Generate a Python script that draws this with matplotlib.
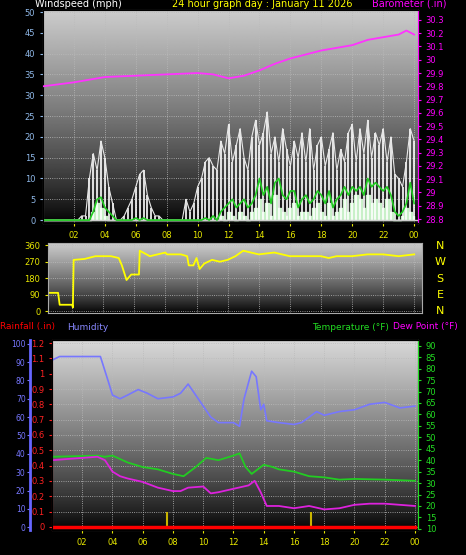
import numpy as np
import matplotlib
matplotlib.use("Agg")
import matplotlib.pyplot as plt

W, H = 466, 555
hours_q = np.arange(0, 24.01, 0.25)
gust = [0,0,0,0, 0,0,0,0, 0,0,1,1, 10,16,12,19, 15,8,4,0, 0,1,3,5, 8,11,12,6, 3,1,1,0,
        0,0,0,0, 0,5,2,4, 8,10,14,15, 13,12,19,16, 23,14,18,22, 15,12,20,24, 18,21,26,16,
        20,14,22,17, 13,19,15,21, 14,22,12,18, 20,13,17,21, 12,17,14,21, 23,14,22,16,
        24,15,21,18, 22,14,20,11, 10,8,14,22, 19]
avg = [0,0,0,0, 0,0,0,0, 0,0,0,0, 0,2,5,5.5, 3,2,1,0, 0,0,0,0, 0.5,0,0.5,0, 0,0,0,0,
       0,0,0,0, 0,0,0,0, 0,0,0.5,0, 1,0,2,3, 4,5,3,4, 5,3,4,6, 10,6,8,4, 9,10,6,5,
       7,7,3,5, 6,4,5,7, 6,4,7,3, 5,6,8,6, 8,7,8,6, 10,8,9,8, 7,8,6,2, 1,2,4,9, 4]
low = [0,0,0,0, 0,0,0,0, 0,0,0,0, 0,2,4,3, 1,0,0,0, 0,0,0,0, 0,0,0,0, 0,0,0,0,
       0,0,0,0, 0,0,0,0, 0,0,0,0, 0,0,1,0, 2,1,0,2, 1,0,2,3, 5,2,4,1, 6,3,2,1,
       3,4,1,2, 2,1,3,4, 2,1,4,1, 2,3,5,2, 4,6,5,3, 6,4,5,4, 3,5,2,0, 0,1,3,2, 1]
baro_h = [0,2,4,6,8,10,11,12,13,14,15,16,17,18,19,20,21,22,23,23.5,24]
baro = [29.80,29.83,29.87,29.88,29.89,29.90,29.89,29.86,29.88,29.92,29.97,30.01,30.04,30.07,
        30.09,30.11,30.15,30.17,30.19,30.22,30.19]
dir_h = [0.45,1.1,1.2,2.0,2.05,2.1,2.8,3.5,4.5,5.0,5.2,5.5,5.8,6.3,6.35,7.0,7.5,8.0,8.1,9.0,
         9.4,9.5,9.8,10.0,10.2,10.5,11,11.5,12,12.5,13,14,15,16,17,18,18.5,19,20,21,22,23,24]
wdir = [100,100,35,35,20,280,285,300,300,290,250,170,200,200,330,300,310,320,310,310,
        300,250,250,290,230,260,280,270,280,300,330,310,320,300,300,300,290,300,300,310,310,300,310]
hum_h = [0,0.5,3.2,3.7,4,4.5,5,5.7,6.3,7,8,8.5,9,9.5,10,10.5,11,12,12.4,12.7,13.2,13.5,13.8,14,
         14.2,15,16,16.5,17,17.5,18,19,20,21,22,23,24]
hum = [91,93,93,80,72,70,72,75,73,70,71,73,78,72,66,60,57,57,55,70,85,82,64,67,58,57,56,57,60,
       63,61,63,64,67,68,65,66]
temp_h = [0,3,3.5,4,5,6,7,8,8.7,9.5,10.2,11,12,12.4,12.8,13.2,13.7,14,14.6,15,16,17,18,19,20,22,24]
temp = [41.5,42,41.5,42,39,37,36,34,33,37,41,40,42,43,37,34,36.5,38,37,36,35,33,32.5,31.5,31.8,31.5,31]
dew_h = [0,3,3.5,4,4.5,5,6,7,8,8.5,9,10,10.5,11,12,13,13.4,13.8,14.2,15,16,17,18,19,20,21,22,23,24]
dew = [40,41.5,40,35,33,32,30.5,28,26.5,26.5,28,28.5,25.5,26,27.5,29,31,26,20,20,19,20,18.5,19,
       20.5,21,21,20.5,20]
rain = [0, 0]
rain_h = [0, 24]
mark_h = [7.6, 17.1]
tick_h = list(range(2, 25, 2))
tick_lab = ["02","04","06","08","10","12","14","16","18","20","22","00"]

fig = plt.figure(figsize=(W/100, H/100), dpi=100, facecolor="black")
def ax_px(l, t, r, b):
    return fig.add_axes([l/W, 1-b/H, (r-l)/W, (b-t)/H])

def grad(ax, top=0.8):
    g = (np.linspace(1, 0, 256) ** 0.8 * top).reshape(-1, 1)
    ax.imshow(g, cmap="gray", vmin=0, vmax=1, aspect="auto", extent=[0,1,0,1],
              transform=ax.transAxes, zorder=0)

def style(ax, col):
    ax.set_facecolor("black")
    for s in ax.spines.values():
        s.set_color("#aaaaaa")
    ax.tick_params(colors=col, labelsize=6, length=2)

# Panel 1
a1 = ax_px(43, 10, 418, 223)
style(a1, "#8fb8e8")
grad(a1)
a1.set_xlim(0, 24.25); a1.set_ylim(-0.7, 50.5)
a1.set_yticks(range(0, 51, 5))
a1.set_xticks(tick_h); a1.set_xticklabels(tick_lab)
a1.tick_params(axis="x", colors="#e8e800")
a1.grid(True, color="#bbbbbb", ls=":", lw=0.6)
a1.fill_between(hours_q, 0, low, color="#c8f0c8", step="mid", zorder=2)
a1.vlines(hours_q, 0, gust, color="white", lw=1.2, zorder=3)
a1.plot(hours_q, gust, color="#e8e8e8", lw=0.8, zorder=3)
a1.axhline(0, color="#cccccc", lw=1, zorder=3)
a1.plot(hours_q, avg, color="#22cc22", lw=1.2, zorder=4)
b1 = a1.twinx()
b1.set_ylim(28.77, 30.375)
b1.set_yticks(np.round(np.arange(28.8, 30.31, 0.1), 1))
b1.set_yticklabels([("%g" % v) for v in np.round(np.arange(28.8, 30.31, 0.1), 1)])
b1.tick_params(colors="#ff00ff", labelsize=6, length=2)
b1.spines["right"].set_color("#ff00ff")
b1.plot(baro_h, baro, color="#ff33ff", lw=1.3, zorder=5)
fig.text(35/W, 1-4/H, "Windspeed (mph)", color="white", fontsize=7, va="center")
fig.text(172/W, 1-4/H, "24 hour graph day : January 11 2026", color="#ffff00", fontsize=7, va="center")
fig.text(372/W, 1-4/H, "Barometer (.in)", color="#ff00ff", fontsize=7, va="center")

# Panel 2
a2 = ax_px(48, 243, 422, 313)
style(a2, "#e8e800")
grad(a2, 0.8)
a2.set_xlim(0.45, 24.5); a2.set_ylim(-10, 372)
a2.set_yticks([0, 90, 180, 270, 360])
a2.set_xticks(tick_h); a2.tick_params(axis="x", labelbottom=False, length=0)
a2.grid(True, color="#bbbbbb", ls=":", lw=0.6)
a2.plot(dir_h, wdir, color="#ffff00", lw=1.3)
for y, t in zip([246, 262, 279, 295, 311], "NWSEN"):
    fig.text(440/W, 1-y/H, t, color="#ffff00", fontsize=8, ha="center", va="center")

# Panel 3
a3 = ax_px(52, 340, 418, 530)
style(a3, "#ff2222")
grad(a3, 0.85)
a3.set_xlim(0, 24.2); a3.set_ylim(-0.02, 1.22)
a3.set_yticks(np.round(np.arange(0, 1.21, 0.1), 1))
a3.set_yticklabels(["%g" % v for v in np.round(np.arange(0, 1.21, 0.1), 1)])
a3.spines["left"].set_color("#ff2222")
a3.set_xticks(tick_h); a3.set_xticklabels(tick_lab)
a3.tick_params(axis="x", colors="#e8e800")
a3.grid(True, color="#bbbbbb", ls=":", lw=0.6)
a3.plot(rain_h, rain, color="#ff0000", lw=2.5, zorder=5)
a3.vlines(mark_h, 0, 0.1, color="#c8b400", lw=1.5, zorder=4)
h3 = a3.twinx()
h3.spines["left"].set_position(("outward", 16))
h3.spines["left"].set_visible(True); h3.spines["left"].set_color("#6666ff")
h3.spines["left"].set_linewidth(2)
h3.yaxis.set_label_position("left"); h3.yaxis.set_ticks_position("left")
h3.set_ylim(-1.5, 102)
h3.set_yticks(range(0, 101, 10))
h3.tick_params(colors="#7777ff", labelsize=5.5, length=2, pad=1)
h3.plot(hum_h, hum, color="#7777ff", lw=1.2)
t3 = a3.twinx()
t3.set_ylim(9.5, 92.5)
t3.set_yticks(range(10, 91, 5))
t3.tick_params(colors="#22dd22", labelsize=6, length=2)
t3.spines["right"].set_color("#22dd22")
t3.plot(temp_h, temp, color="#22cc22", lw=1.3)
t3.plot(dew_h, dew, color="#dd22dd", lw=1.3)
fig.text(0, 1-327/H, "Rainfall (.in)", color="#ff0000", fontsize=6.5, va="center")
fig.text(67/W, 1-327/H, "Humidity", color="#8888ff", fontsize=6.5, va="center")
fig.text(312/W, 1-327/H, "Temperature (°F)", color="#22dd22", fontsize=6.5, va="center")
fig.text(393/W, 1-327/H, "Dew Point (°F)", color="#ff00ff", fontsize=6.5, va="center")

fig.savefig("out.png", dpi=100, facecolor="black")
